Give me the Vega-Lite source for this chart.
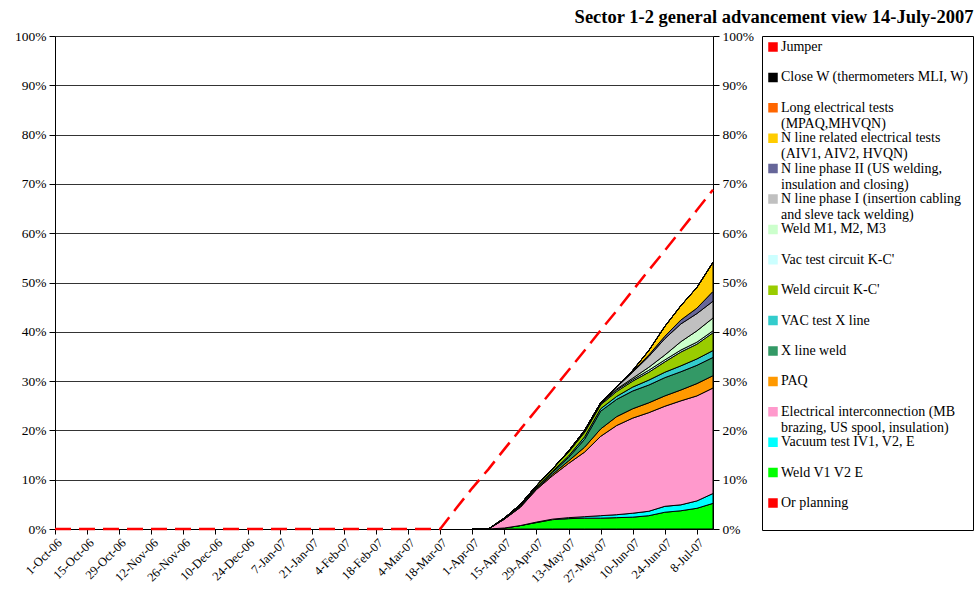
{
  "$schema": "https://vega.github.io/schema/vega-lite/v6.json",
  "width": 658,
  "height": 493,
  "autosize": {"type": "none"},
  "padding": {"left": 55, "top": 36, "right": 264, "bottom": 68},
  "background": "white",
  "title": {
    "text": "Sector 1-2 general advancement view 14-July-2007",
    "anchor": "end",
    "frame": "bounds",
    "font": "Liberation Serif",
    "fontSize": 18.5,
    "fontWeight": "bold",
    "color": "#000",
    "offset": 3
  },
  "config": {
    "view": {"stroke": null},
    "font": "Liberation Serif",
    "axis": {
      "labelFont": "Liberation Serif",
      "labelFontSize": 13.5,
      "labelColor": "#000",
      "domainColor": "#000",
      "tickColor": "#000",
      "tickSize": 6,
      "title": null
    },
    "axisX": {"labelOverlap": false, "labelFontSize": 12.5, "labelAngle": -45, "tickSize": 5, "labelPadding": 2}
  },
  "datasets": {
    "progress": [
      {"date": "2007/04/01", "weld": 0, "vac": 0, "elec": 0, "paq": 0, "xweld": 0, "xvac": 0, "kcweld": 0, "kcvac": 0, "m123": 0, "n1": 0, "n2": 0, "nel": 0, "long": 0, "closew": 0, "jumper": 0},
      {"date": "2007/04/08", "weld": 0, "vac": 0, "elec": 0, "paq": 0, "xweld": 0, "xvac": 0, "kcweld": 0, "kcvac": 0, "m123": 0, "n1": 0, "n2": 0, "nel": 0, "long": 0, "closew": 0, "jumper": 0},
      {"date": "2007/04/15", "weld": 0.2, "vac": 0, "elec": 1.8, "paq": 0, "xweld": 0.1, "xvac": 0, "kcweld": 0.1, "kcvac": 0, "m123": 0, "n1": 0, "n2": 0, "nel": 0, "long": 0, "closew": 0, "jumper": 0},
      {"date": "2007/04/22", "weld": 0.7, "vac": 0, "elec": 3.7, "paq": 0.1, "xweld": 0.2, "xvac": 0.1, "kcweld": 0.2, "kcvac": 0, "m123": 0, "n1": 0, "n2": 0, "nel": 0, "long": 0, "closew": 0, "jumper": 0},
      {"date": "2007/04/29", "weld": 1.3, "vac": 0.1, "elec": 6.6, "paq": 0.2, "xweld": 0.2, "xvac": 0.1, "kcweld": 0.3, "kcvac": 0, "m123": 0, "n1": 0, "n2": 0, "nel": 0, "long": 0, "closew": 0, "jumper": 0},
      {"date": "2007/05/06", "weld": 1.9, "vac": 0.1, "elec": 8.8, "paq": 0.3, "xweld": 0.4, "xvac": 0.2, "kcweld": 0.5, "kcvac": 0, "m123": 0, "n1": 0, "n2": 0, "nel": 0, "long": 0, "closew": 0, "jumper": 0},
      {"date": "2007/05/13", "weld": 2.1, "vac": 0.2, "elec": 11.0, "paq": 0.5, "xweld": 0.7, "xvac": 0.3, "kcweld": 0.8, "kcvac": 0.1, "m123": 0.1, "n1": 0, "n2": 0, "nel": 0, "long": 0, "closew": 0, "jumper": 0},
      {"date": "2007/05/20", "weld": 2.2, "vac": 0.3, "elec": 13.1, "paq": 1.0, "xweld": 1.6, "xvac": 0.5, "kcweld": 0.9, "kcvac": 0.2, "m123": 0.2, "n1": 0, "n2": 0, "nel": 0, "long": 0, "closew": 0, "jumper": 0},
      {"date": "2007/05/27", "weld": 2.2, "vac": 0.5, "elec": 16.1, "paq": 1.5, "xweld": 3.6, "xvac": 0.5, "kcweld": 0.8, "kcvac": 0.2, "m123": 0.1, "n1": 0.1, "n2": 0, "nel": 0, "long": 0, "closew": 0, "jumper": 0},
      {"date": "2007/06/03", "weld": 2.3, "vac": 0.6, "elec": 18.1, "paq": 1.8, "xweld": 3.5, "xvac": 0.6, "kcweld": 1.0, "kcvac": 0.3, "m123": 0.2, "n1": 0.4, "n2": 0, "nel": 0, "long": 0, "closew": 0, "jumper": 0},
      {"date": "2007/06/10", "weld": 2.4, "vac": 0.8, "elec": 19.3, "paq": 1.9, "xweld": 3.6, "xvac": 0.8, "kcweld": 1.2, "kcvac": 0.3, "m123": 0.3, "n1": 1.2, "n2": 0.2, "nel": 0.2, "long": 0, "closew": 0, "jumper": 0},
      {"date": "2007/06/17", "weld": 2.7, "vac": 0.9, "elec": 20.0, "paq": 2.0, "xweld": 3.6, "xvac": 1.0, "kcweld": 1.6, "kcvac": 0.4, "m123": 0.6, "n1": 2.2, "n2": 0.3, "nel": 0.9, "long": 0, "closew": 0, "jumper": 0},
      {"date": "2007/06/24", "weld": 3.4, "vac": 1.2, "elec": 20.3, "paq": 2.1, "xweld": 3.7, "xvac": 1.1, "kcweld": 2.1, "kcvac": 0.4, "m123": 1.0, "n1": 3.3, "n2": 0.5, "nel": 2.0, "long": 0, "closew": 0, "jumper": 0},
      {"date": "2007/07/01", "weld": 3.7, "vac": 1.2, "elec": 21.1, "paq": 2.2, "xweld": 3.7, "xvac": 1.2, "kcweld": 2.8, "kcvac": 0.4, "m123": 1.7, "n1": 3.6, "n2": 0.8, "nel": 2.9, "long": 0, "closew": 0, "jumper": 0},
      {"date": "2007/07/08", "weld": 4.2, "vac": 1.5, "elec": 21.3, "paq": 2.5, "xweld": 3.7, "xvac": 1.3, "kcweld": 3.0, "kcvac": 0.4, "m123": 2.3, "n1": 3.5, "n2": 1.1, "nel": 4.2, "long": 0, "closew": 0, "jumper": 0},
      {"date": "2007/07/15", "weld": 5.2, "vac": 2.0, "elec": 21.4, "paq": 2.5, "xweld": 3.7, "xvac": 1.4, "kcweld": 3.6, "kcvac": 0.4, "m123": 2.6, "n1": 3.4, "n2": 2.0, "nel": 5.9, "long": 0, "closew": 0, "jumper": 0}
    ],
    "series": [
      {"key": "weld", "name": "Weld V1 V2 E", "o": 1},
      {"key": "vac", "name": "Vacuum test IV1, V2, E", "o": 2},
      {"key": "elec", "name": "Electrical interconnection (MB|brazing, US spool, insulation)", "o": 3},
      {"key": "paq", "name": "PAQ", "o": 4},
      {"key": "xweld", "name": " X line weld", "o": 5},
      {"key": "xvac", "name": "VAC test X line", "o": 6},
      {"key": "kcweld", "name": "Weld circuit K-C'", "o": 7},
      {"key": "kcvac", "name": "Vac test circuit K-C'", "o": 8},
      {"key": "m123", "name": "Weld M1, M2, M3", "o": 9},
      {"key": "n1", "name": "N line phase I (insertion cabling|and sleve tack welding)", "o": 10},
      {"key": "n2", "name": "N line phase II (US welding,|insulation and closing)", "o": 11},
      {"key": "nel", "name": "N line related electrical tests|(AIV1, AIV2, HVQN)", "o": 12},
      {"key": "long", "name": "Long electrical tests|(MPAQ,MHVQN)", "o": 13},
      {"key": "closew", "name": "Close W (thermometers MLI, W)", "o": 14},
      {"key": "jumper", "name": "Jumper", "o": 15}
    ],
    "plan": [
      {"date": "2006/10/01", "pct": 0},
      {"date": "2007/03/18", "pct": 0},
      {"date": "2007/03/25", "pct": 4.2},
      {"date": "2007/04/01", "pct": 8.3},
      {"date": "2007/04/08", "pct": 12.1},
      {"date": "2007/04/15", "pct": 16.2},
      {"date": "2007/04/22", "pct": 20.2},
      {"date": "2007/04/29", "pct": 24.2},
      {"date": "2007/05/06", "pct": 28.2},
      {"date": "2007/05/13", "pct": 32.2},
      {"date": "2007/05/20", "pct": 36.2},
      {"date": "2007/05/27", "pct": 40.3},
      {"date": "2007/06/03", "pct": 44.3},
      {"date": "2007/06/10", "pct": 48.4},
      {"date": "2007/06/17", "pct": 52.5},
      {"date": "2007/06/24", "pct": 56.5},
      {"date": "2007/07/01", "pct": 60.6},
      {"date": "2007/07/08", "pct": 64.7},
      {"date": "2007/07/15", "pct": 68.8}
    ]
  },
  "encoding": {
    "x": {
      "field": "date",
      "type": "temporal",
      "scale": {"domain": [{"year": 2006, "month": 10, "date": 1}, {"year": 2007, "month": 7, "date": 15}]},
      "axis": {
        "values": [
          {"year": 2006, "month": 10, "date": 1}, {"year": 2006, "month": 10, "date": 15}, {"year": 2006, "month": 10, "date": 29},
          {"year": 2006, "month": 11, "date": 12}, {"year": 2006, "month": 11, "date": 26}, {"year": 2006, "month": 12, "date": 10},
          {"year": 2006, "month": 12, "date": 24}, {"year": 2007, "month": 1, "date": 7}, {"year": 2007, "month": 1, "date": 21},
          {"year": 2007, "month": 2, "date": 4}, {"year": 2007, "month": 2, "date": 18}, {"year": 2007, "month": 3, "date": 4},
          {"year": 2007, "month": 3, "date": 18}, {"year": 2007, "month": 4, "date": 1}, {"year": 2007, "month": 4, "date": 15},
          {"year": 2007, "month": 4, "date": 29}, {"year": 2007, "month": 5, "date": 13}, {"year": 2007, "month": 5, "date": 27},
          {"year": 2007, "month": 6, "date": 10}, {"year": 2007, "month": 6, "date": 24}, {"year": 2007, "month": 7, "date": 8}
        ],
        "format": "%-d-%b-%y",
        "labelAngle": -45,
        "labelOverlap": false,
        "grid": false
      }
    }
  },
  "layer": [
    {
      "data": {"name": "progress"},
      "transform": [
        {"fold": ["weld", "vac", "elec", "paq", "xweld", "xvac", "kcweld", "kcvac", "m123", "n1", "n2", "nel", "long", "closew", "jumper"], "as": ["key", "pct"]},
        {"lookup": "key", "from": {"data": {"name": "series"}, "key": "key", "fields": ["name", "o"]}}
      ],
      "mark": {"type": "area", "stroke": "black", "strokeWidth": 1, "strokeJoin": "round"},
      "encoding": {
        "y": {
          "field": "pct",
          "type": "quantitative",
          "stack": "zero",
          "scale": {"domain": [0, 100]},
          "axis": {
            "values": [0, 10, 20, 30, 40, 50, 60, 70, 80, 90, 100],
            "labelExpr": "datum.value + '%'",
            "grid": true,
            "gridColor": "#000",
            "gridWidth": 0.8,
            "labelPadding": 3
          }
        },
        "color": {
          "field": "name",
          "type": "nominal",
          "scale": {
            "domain": ["Jumper", "Close W (thermometers MLI, W)", "Long electrical tests|(MPAQ,MHVQN)", "N line related electrical tests|(AIV1, AIV2, HVQN)", "N line phase II (US welding,|insulation and closing)", "N line phase I (insertion cabling|and sleve tack welding)", "Weld M1, M2, M3", "Vac test circuit K-C'", "Weld circuit K-C'", "VAC test X line", " X line weld", "PAQ", "Electrical interconnection (MB|brazing, US spool, insulation)", "Vacuum test IV1, V2, E", "Weld V1 V2 E", "Or planning"],
            "range": ["#FF0000", "#000000", "#FF6600", "#FFCC00", "#666699", "#C0C0C0", "#CCFFCC", "#CCFFFF", "#99CC00", "#33CCCC", "#339966", "#FF9900", "#FF99CC", "#00FFFF", "#00FF00", "#FF0000"]
          },
          "legend": {
            "orient": "none",
            "legendX": 707,
            "legendY": 0,
            "title": null,
            "strokeColor": "#000",
            "fillColor": "white",
            "padding": 4,
            "labelFont": "Liberation Serif",
            "labelFontSize": 14,
            "labelColor": "#000",
            "labelLimit": 230,
            "labelExpr": "indexof(datum.label, '|') >= 0 ? split(datum.label, '|') : [datum.label, '']",
            "symbolType": "square",
            "symbolSize": 64,
            "rowPadding": 0.4,
            "labelOffset": 1,
            "encode": {
              "symbols": {"update": {"shape": {"value": "square"}, "fill": {"scale": "color", "field": "value"}, "stroke": {"value": "black"}, "strokeWidth": {"value": 1}, "opacity": {"value": 1}}}
            }
          }
        },
        "order": {"field": "o", "type": "quantitative"}
      }
    },
    {
      "data": {"name": "plan"},
      "mark": {"type": "line", "strokeDash": [16, 8], "strokeWidth": 2.5},
      "encoding": {
        "y": {
          "field": "pct",
          "type": "quantitative",
          "scale": {"domain": [0, 100]},
          "axis": {
            "orient": "right",
            "values": [0, 10, 20, 30, 40, 50, 60, 70, 80, 90, 100],
            "labelExpr": "datum.value + '%'",
            "grid": false,
            "labelPadding": 3
          }
        },
        "color": {"datum": "Or planning"}
      }
    }
  ],
  "resolve": {"scale": {"y": "independent"}}
}
